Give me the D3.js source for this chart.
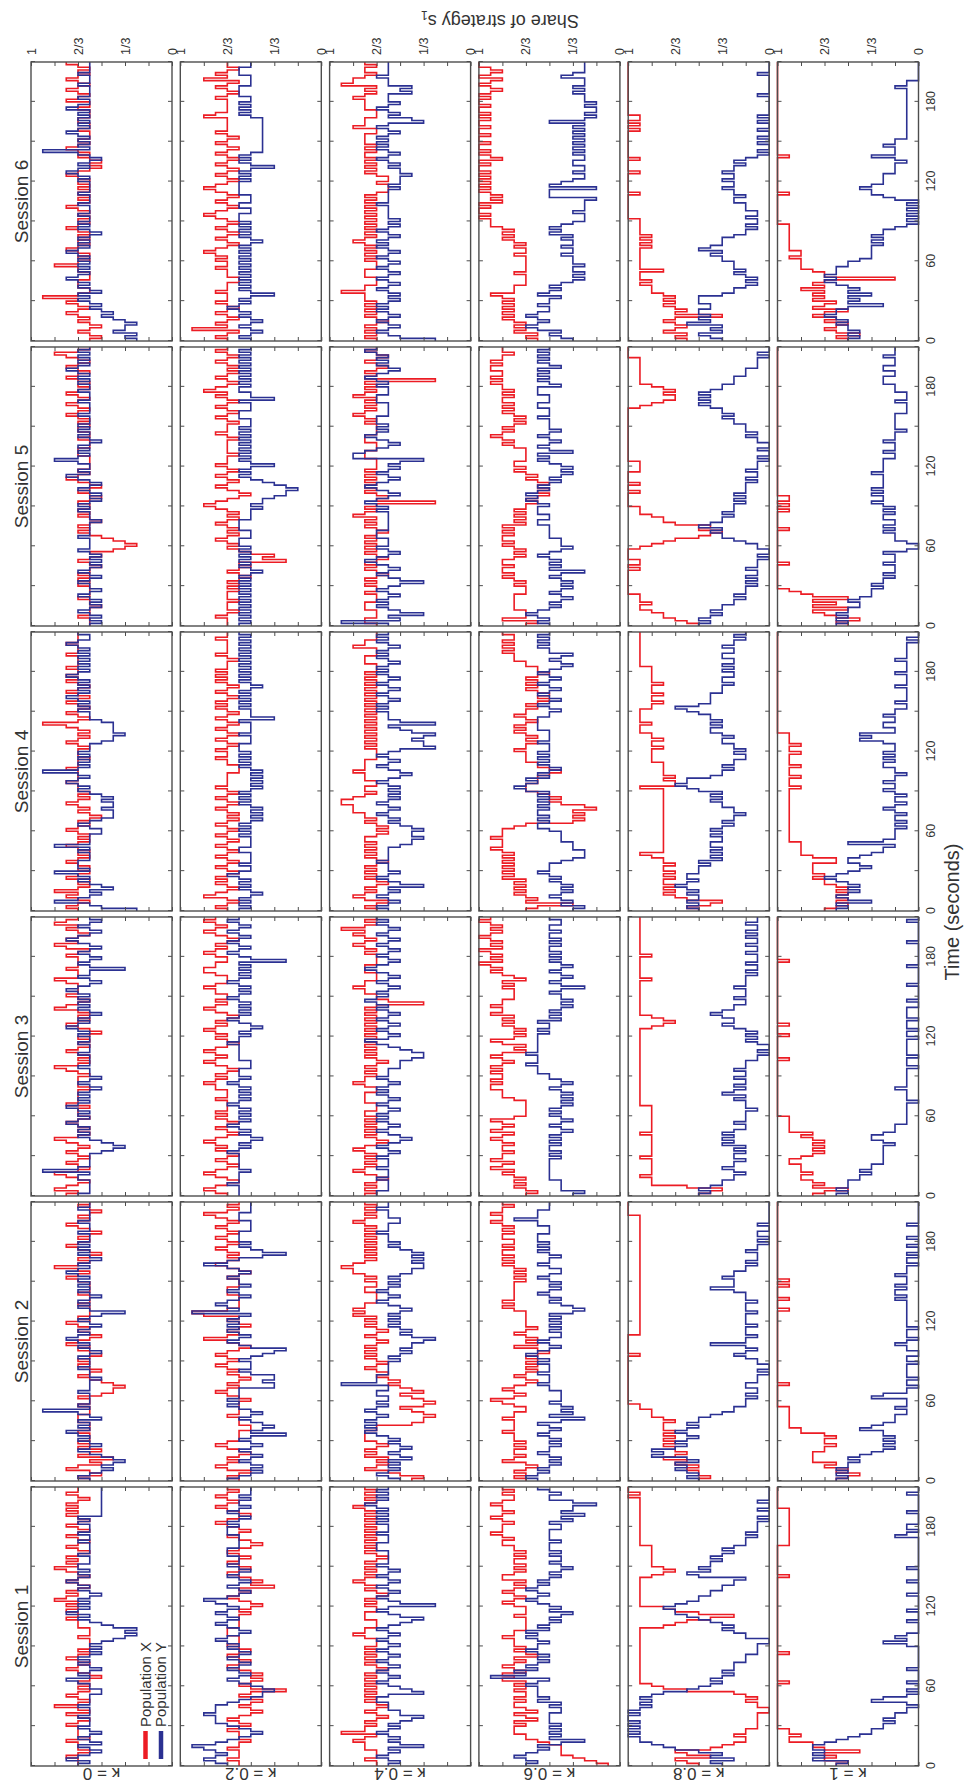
<!DOCTYPE html>
<html>
<head>
<meta charset="utf-8">
<script src="https://cdn.jsdelivr.net/npm/d3@7"></script>
<style>
  html, body { margin: 0; padding: 0; background: #fff; }
  svg { display: block; font-family: "Liberation Sans", Arial, Helvetica, sans-serif; }
</style>
</head>
<body>
<svg id="chart" width="967" height="1784"></svg>
<script>
// Share of strategy s1, in twelfths (0-9, a=10, b=11, c=12), one char per 2 s,
// seven groups of 30 s. Each array: Session 1 .. Session 6.

// κ = 0
const xK0 = [
  "888987888978888 9878978a8789878 787678987898787 777877788898898 98a98987898789a 898987898789878 987898989878988",
  "786798675876878 777877788877787 786554567876787 876787987678789 787777877787777 89878a878767898 787678987876787",
  "98a98789a878987 898789a87878987 888798888878888 789a87878987878 7678987878a9878 988889a88898888 9879a8987898a98",
  "8987898a8787987 878987878987878 987876787898787 888988889888788 8789878789b8789 878987898789898 898888988898888",
  "777877767787777 878787767876754 345678787678787 787678767898787 777788877787788 787898789878987 878987898789a87",
  "767876787898789 8b87788877788a8 787898787878987 878789878787878 789876767878987 877787788777877 987898789878789"
];
const yK0 = [
  "879876786787678 777877787777667 789787678787676 765434356787987 878767878987878 877787777877877 787866666666666",
  "787656545678767 87897878678b787 777877776777877 787678789878767 876478787678787 878987876787878 777877787777877",
  "877777887b87777 765456787878987 878987878767876 777877778777877 878987876787878 789876787747876 787678987678767",
  "367a8767567878a 788877787a77776 678765556556567 8789878b8787878 777655455556777 878789878787898 787878787898778",
  "767678767678767 787678767676787 777877777677787 876767876789787 78a878787678787 877787777877787 787878987878787",
  "343544345656767 878678789878787 878987878767878 778777877787777 87898787678b787 878987878787987 787777877787777"
];

// κ = 0.2
const xK02 = [
  "778777877677787 678765676567636 765656787678767 877788877777676 567876746567876 787678765678767 898767898789878",
  "787689878767898 777766777877777 678987876787898 78987678a878767 87ab87777788877 787678987878987 8987898789a8787",
  "89a98789a987898 78989a987898789 898888988899a98 98789a989a98789 89a9898789a9898 899a98889aa9988 9a9898789a989a9",
  "89878a987898987 898789878987898 789878789878987 898888877788988 987898789878987 898987898789898 988878988888988",
  "888987888788878 787678767354678 789878789878789 a98767898789878 988878888878988 8789878987898a9 878987878987898",
  "8987b8987898789 888988877888988 989a98789878987 89a987898789a98 789878987898789 878988888a98888 89878987a898788"
];
const yK02 = [
  "89a989ab9876567 8999a9998765545 678767876787678 789876789878987 89a876787678767 877788877777888 787678767767666",
  "876565676567656 763654567656787 877774454467666 765436787678787 876b78987678767 787678a87535676 777766667776666",
  "777787777677777 787676567678767 676787676767876 777666777777877 676567876767678 767678767676736 787678767876787",
  "767676567676787 667666677666676 767656565676767 656565656767676 777666766667466 676767676567676 767676767676767",
  "767676767676767 676765676767676 777666777766665 655433234567676 467676767676767 666777666746677 676767676767676",
  "676567656767876 764676767676767 676767656767676 777667766677777 676764676765555 555555555676767 667777666677766"
];

// κ = 0.4
const xK04 = [
  "889888999a98b99 898789878989898 989898789898989 8889a9988899988 989878989a98989 898789898989898 9898989a9898989",
  "546798787989878 999988544345643 456456767878987 898989878987898 98a9a9988889988 989aaba98989898 9898989a9898989",
  "989898789a98989 89a987898989898 998889999889a99 898987898989898 989898989898478 899a99888999888 8989a989a9b9898",
  "89879a989878989 898789898989987 8789899aaabba98 9988999a9999888 898989898989898 989898989898989 888999888a99888",
  "899888999888988 989878989878989 89898789898a989 838789898989898 888999888999888 8989a989898a989 893989878987898",
  "898989878989898 999b99888999888 9898989a9898989 898989898987778 778989898998989 99988a999888999 9a9898baa989989"
];
const yK04 = [
  "767876746767876 765466777887456 787678767876787 678767876546787 367876787678767 877777888777877 787878789878787",
  "678767675676567 678989898789878 778877b88877777 676565543565676 767656787678767 676554454545676 777877766777877",
  "887777877787778 767876567876787 876787678787678 777666544567897 678767876787898 787678767898767 876787678767878",
  "787678767467876 777877777655455 456767876787676 767876567876787 634454356736777 878767876787678 787678787678787",
  "7b6746787876787 646787678987678 777888777777787 898767898767876 764aa9876789878 788877777888777 878987678787898",
  "367876787678787 676787678767876 787678787678767 677777877777676 665667678767878 787678745767876 777565777877777"
];

// κ = 0.6
const xK06 = [
  "123455556788999 897897899898898 98a9a89a9897898 999a99888889888 9a989a9898aa989 89989899aa9abaa a9aba9aaba99a9a",
  "8989878a9899898 999a9999a99889a b989a9878987878 787679787898788 88889a9a9999999 898989a9a9aa9a9 9aa9a9abaabaa9a",
  "87898989a9ba9ba a9aa9aba9ba9ab9 8888889aaabbaba ababa9aba898ab9 8989a9a9baabaa9 999a9a89ababcab abcababcbababcb",
  "874878989898a9a 9a9a9a9abaaabaa a98434342356567 888777656778888 988787898987898 878767678787876 7788999a9a9a99a",
  "87a888999999888 989a9aa9aa98989 a9aa9a9a8989898 878767676787898 99888889a9aba9a 98989a9a9aa9a9a ababaabbabaa9aa",
  "78798989a9a9a9a 9ab999888898888 88988989a9a9abb bcbccbcababcbcb cbcbccbcabcbccb ccbccbccbcbccbc cbcbabcbacbabcc"
];
const yK06 = [
  "878987675365656 566665565767777 876b89787676787 767878676565465 678767876765654 565565666566665 564535442466567",
  "787676565676656 567656753645456 555566766676667 678765676556565 656434565676565 676556766567676 777666779777666",
  "435555666666665 656656565456545 656545454565456 677787778777777 767667565654545 565356545654565 656656566566556",
  "435456545456567 666543334445555 677676776767676 898786765676767 666766667777766 567656765676567 654565466767676",
  "676787656545654 545653656567654 555666667766777 678787676565454 567674676567656 666766677666777 567676756767676",
  "456578767876676 657656543434434 445445445465654 333433332666265 433433443343434 343434363232232 333434333543333"
];

// κ = 0.8
const xK08 = [
  "678578543223221 111110011212379 abbbbbbbbbbbbbb bbbbbbb98753689 bbbbbbbbbbba989 aaaaaaaabbbbbbb bbbbbbbbbbbcbcc",
  "656676879878898 989899989aaabbc ccccccccccccccc ccbcccccccbbbbb bbbbbbbbbbbbbbb bbbbbbbbbbbbbbb bbbbbbbbbbccccc",
  "6547aaabaaaaaab aaaaaaaabaaaaaa aaaabbbbbbbbbbb bbbbbbbbbbbbbbb bbba989abbbbbbb bbbbbbabbbbbbbb abbbbbbbbbbbbbb",
  "675478989899898 99899ab99999999 999999999999999 9b889899999aaaa a9aa9aabbbabbbb baa9aa9aaa9aaaa aabbbbbbbbbbbbb",
  "67899abbabbbccc ccccccbcbbccccb a9865465899abbb cccccbccbccccbb bbccccccccccccc cccccccba988989 abbbbbbbbbbcccc",
  "787987898487898 989aaababbb9bbb bbbbbabababbbbb bcccccccccbcccc cccbccccbcccccc ccccbcbcbbccccc ccccccccccccccc"
];
const yK08 = [
  "45354689abbcbcb cbccbcbababa976 545434333222111 100223434567889 876655443326756 554543432221211 110100100100000",
  "676787867a9a878 767876766543322 212112211101001 123212522122212 222122212223533 343322121112110 101100100000000",
  "656544332343323 323243434322322 221222324323223 223222110100121 212343345433223 222322221211211 121121121211211",
  "676766767876776 665645454554454 543433233445454 678775443433223 233443455454556 786555544434433 434334433433232",
  "656545443323222 121211211101001 123445465443433 323232222121121 110100100112122 233434456565654 433322211110100",
  "456454756566556 664332121232333 445465444322121 121122233233433 433433232101001 010010010100000 001000000010000"
];

// κ = 1
const xK1 = [
  "768785899bbabbc ccccccccccccccc cbccccccccccbcc ccccccccccccccc cccccccccccbccc ccccccccbbbbbbb bbbbbbbcccccccc",
  "765768799998878 878aabbbbbbbbcc ccccccbcccccccc ccccccccccccccc ccccbcccbccccbc bcccccccccccccc ccccccccccccccc",
  "986989aa9aaabba 9898989a9bbbbbb ccccccccccccccc ccccccbcccccccc bcccbcccccccccc cccccccccccccbc ccccccccccccccc",
  "876767676788989 999779aaaaabbbb bbbbbbbbbbbbbbb babbbabbbabbbba bbabbbbcccccccc ccccccccccccccc ccccccccccccccc",
  "675789697969abc ccccccccbcccccc ccccccbccccccbc bcbbccccccccccc ccccccccccccccc ccccccccccccccc ccccccccccccccc",
  "675787687986987 9898a8982889aaa abaabbbbbbbbbbc ccccccccccbcccc cccccccccbccccc ccccccccccccccc ccccccccccccccc"
];
const yK1 = [
  "769898998765443 323221101431010 010000100000000 131210000100010 000010000100001 000000000002101 100001000000100",
  "767676656543232 323354322211211 143110110111110 110011210111011 111111112122121 112111011010010 010000100000000",
  "767666554544333 333323443222111 111110111121111 111011101111110 110111011110010 000010000001000 000001000000010",
  "767467656567876 545665433263222 212122123212212 322322122332323 222354522332232 211211111211112 111121111110100",
  "767676655654443 433232223222310 012223232233232 343343433333433 333223222322212 222221111211122 233322332223222",
  "656566767877636 564656787877766 544444343433210 101010102344543 333222212422232 211111111111111 111112110000000"
];

const sessions = ["Session 1", "Session 2", "Session 3", "Session 4", "Session 5", "Session 6"];
const kappas = ["κ = 0", "κ = 0.2", "κ = 0.4", "κ = 0.6", "κ = 0.8", "κ = 1"];
const timeTicks = [0, 60, 120, 180];
const shareTicks = [0, 1 / 3, 2 / 3, 1];
const shareTickLabels = ["0", "1/3", "2/3", "1"];
const legendItems = ["Population X", "Population Y"];

const popX = [xK0, xK02, xK04, xK06, xK08, xK1];
const popY = [yK0, yK02, yK04, yK06, yK08, yK1];

// the figure is laid out landscape (1784 x 967) and turned a quarter left
const panelW = 279, panelH = 141;
const colX = j => 18 + j * 285;
const rowY = i => 31 + i * 149.3;
const red = "#ec1c24", blue = "#2b3192", frame = "#4d4d4d", ink = "#333";

const parse = s => s.replace(/\s+/g, "").split("").map(c => parseInt(c, 16) / 12);

const svg = d3.select("#chart");
const g = svg.append("g").attr("transform", "translate(0,1784) rotate(-90)");

function tidy(sel) {
    sel.select(".domain").remove();
    sel.selectAll(".tick line").attr("stroke", frame).attr("stroke-width", 1);
    sel.selectAll(".tick text").attr("fill", ink).attr("font-size", 12.5)
        .attr("font-family", "Liberation Sans, Arial, sans-serif");
}

kappas.forEach((kLabel, i) => {
    sessions.forEach((sLabel, j) => {
        const x = d3.scaleLinear().domain([0, 210]).range([colX(j), colX(j) + panelW]);
        const y = d3.scaleLinear().domain([0, 1]).range([rowY(i) + panelH, rowY(i)]);
        const line = d3.line()
            .x(d => x(d[0]))
            .y(d => y(d[1]))
            .curve(d3.curveStepAfter);
        const p = g.append("g");

        [[popX[i][j], red], [popY[i][j], blue]].forEach(([str, col]) => {
            const v = parse(str).slice(0, 105);
            const pts = v.map((d, k) => [k * 2, d]);
            pts.push([210, v[v.length - 1]]);
            p.append("path")
                .datum(pts)
                .attr("d", line)
                .attr("fill", "none")
                .attr("stroke", col)
                .attr("stroke-width", 1.6);
        });

        // inward ticks on all four sides
        const tT = d3.range(0, 211, 30);
        const vT = d3.range(0, 7).map(k => k / 6);
        p.append("g").attr("transform", `translate(0,${y(0)})`)
            .call(d3.axisBottom(x).tickValues(tT).tickSize(-4).tickFormat("")).call(tidy);
        p.append("g").attr("transform", `translate(0,${y(1)})`)
            .call(d3.axisTop(x).tickValues(tT).tickSize(-4).tickFormat("")).call(tidy);
        p.append("g").attr("transform", `translate(${x(0)},0)`)
            .call(d3.axisLeft(y).tickValues(vT).tickSize(-4).tickFormat("")).call(tidy);
        p.append("g").attr("transform", `translate(${x(210)},0)`)
            .call(d3.axisRight(y).tickValues(vT).tickSize(-4).tickFormat("")).call(tidy);

        p.append("rect")
            .attr("x", x(0)).attr("y", y(1))
            .attr("width", panelW).attr("height", panelH)
            .attr("fill", "none").attr("stroke", frame).attr("stroke-width", 1.4);

        if (i === kappas.length - 1) {
            p.append("g").attr("transform", `translate(0,${y(0)})`)
                .call(d3.axisBottom(x).tickValues(timeTicks).tickSize(0).tickPadding(8)).call(tidy);
        }
        if (j === sessions.length - 1) {
            p.append("g").attr("transform", `translate(${x(210)},0)`)
                .call(d3.axisRight(y).tickValues(shareTicks).tickSize(0).tickPadding(7)
                    .tickFormat((d, k) => shareTickLabels[k])).call(tidy);
        }
        if (i === 0) {
            g.append("text")
                .attr("x", colX(j) + panelW / 2).attr("y", 28)
                .attr("text-anchor", "middle").attr("font-size", 19).attr("fill", ink)
                .text(sLabel);
        }
        if (j === 0) {
            g.append("text")
                .attr("transform", `translate(16,${rowY(i) + panelH / 2}) rotate(-90)`)
                .attr("text-anchor", "middle").attr("font-size", 17).attr("fill", ink)
                .text(kLabel);
        }
    });
});

// axis titles
g.append("text")
    .attr("x", 872).attr("y", 959)
    .attr("text-anchor", "middle").attr("font-size", 20).attr("fill", ink)
    .text("Time (seconds)");

const share = g.append("text")
    .attr("transform", "translate(1769,500) rotate(-90)")
    .attr("text-anchor", "middle").attr("font-size", 18).attr("fill", ink);
share.append("tspan").text("Share of strategy s");
share.append("tspan").attr("font-size", 12).attr("dy", "0.3em").text("1");

// legend, inside Session 1 / κ = 0
const legend = g.append("g");
legendItems.forEach((name, k) => {
    const ly = 145.5 + k * 15.5;
    legend.append("line")
        .attr("x1", 25).attr("x2", 53).attr("y1", ly).attr("y2", ly)
        .attr("stroke", k === 0 ? red : blue).attr("stroke-width", 4.5);
    legend.append("text")
        .attr("x", 57).attr("y", ly + 5)
        .attr("font-size", 15).attr("fill", ink)
        .text(name);
});
</script>
</body>
</html>
